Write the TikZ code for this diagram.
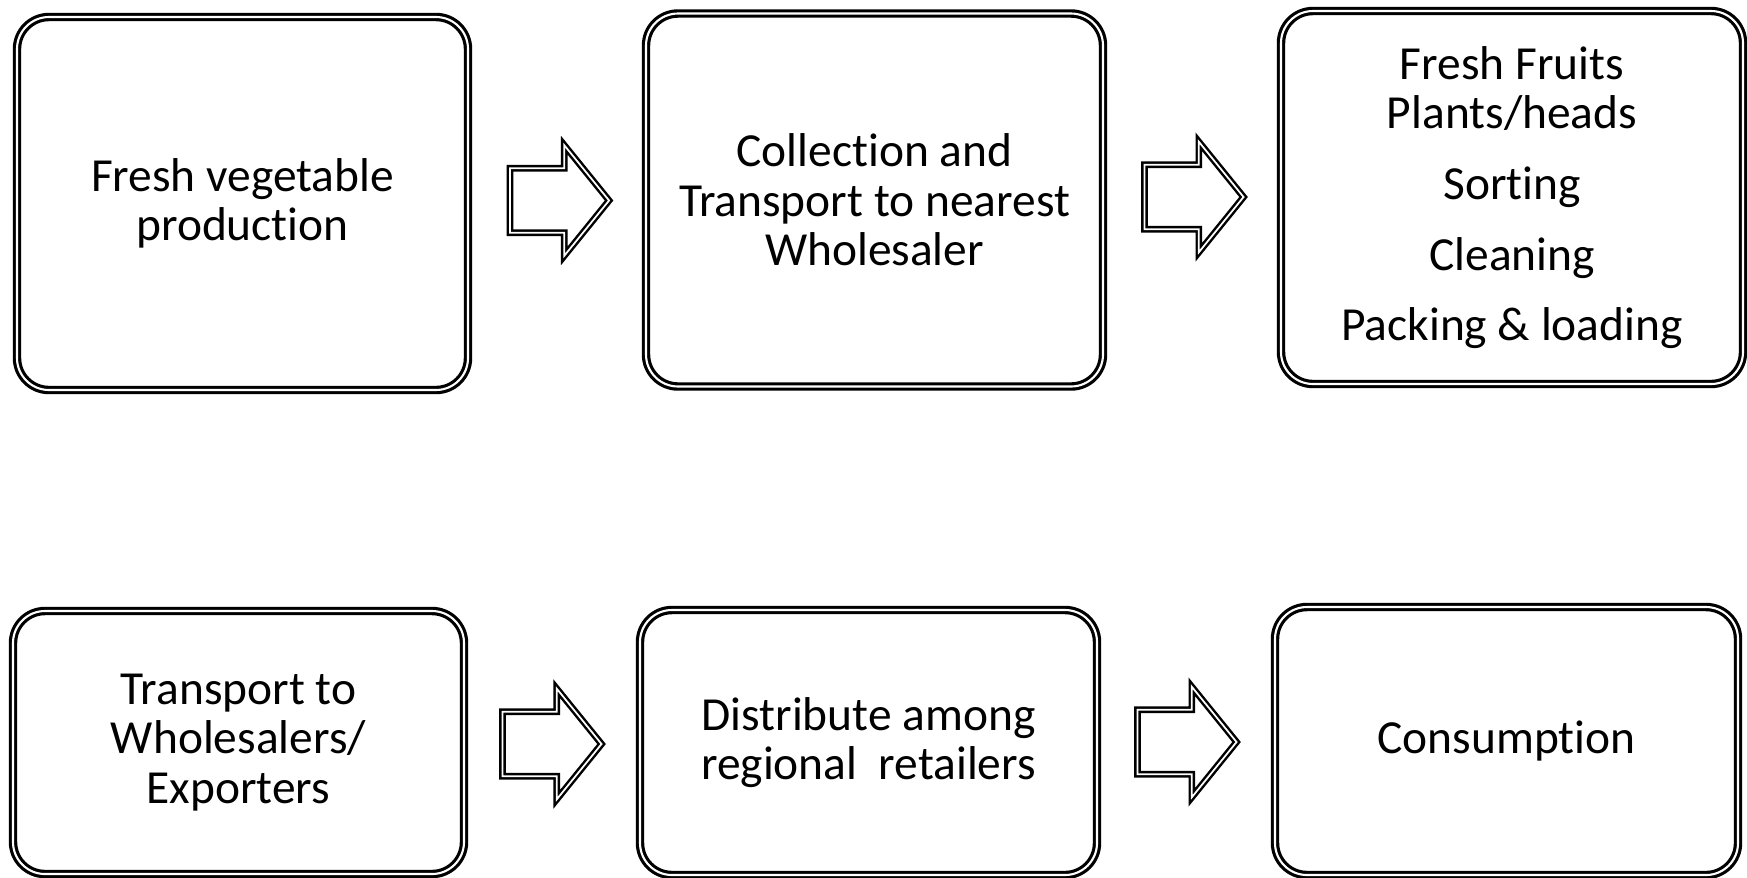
\documentclass[tikz,border=0pt]{standalone}
\usepackage{fontspec}
\setmainfont{Carlito}[Ligatures=NoCommon]
\usepackage{tikz}
\usetikzlibrary{shapes.arrows, positioning}
\tikzset{
  box/.style={rectangle, draw, rounded corners=0.32cm, double, double distance=0.6pt, line width=0.9pt, minimum width=4.55cm, minimum height=3.73cm, align=center, font=\fontsize{13.5}{14.1}\selectfont},
  blockarrow/.style={single arrow, draw, double, double distance=0.5pt, line width=0.7pt, minimum height=0.99cm, single arrow head extend=0.23cm, single arrow tip angle=102, inner xsep=0pt, inner ysep=0.31cm},
}
\begin{document}
\begin{tikzpicture}
    \useasboundingbox (0,0) rectangle (17.47,-8.77);
    % top row
    \node[box, minimum width=4.51cm] (prod) at (2.425,-2.035) {Fresh vegetable\\production};
    \node[box, minimum width=4.57cm] (collect) at (8.745,-2.0) {Collection and\\Transport to nearest\\Wholesaler};
    \node[box, minimum width=4.62cm] (sort) at (15.12,-1.975) {Fresh Fruits\\Plants/heads\\[6pt]Sorting\\[6pt]Cleaning\\[6pt]Packing \& loading};
    % bottom row
    \node[box, minimum width=4.51cm, minimum height=2.63cm] (export) at (2.385,-7.425) {Transport to\\Wholesalers/\\Exporters};
    \node[box, minimum width=4.57cm, minimum height=2.65cm] (retail) at (8.685,-7.425) {Distribute among\\regional\ \ retailers};
    \node[box, minimum width=4.63cm, minimum height=2.68cm] (consume) at (15.065,-7.41) {Consumption};
    % block arrows
    \node[blockarrow] (prod-collect) at (5.465,-2.005) {};
    \node[blockarrow] (collect-sort) at (11.81,-1.97) {};
    \node[blockarrow] (export-retail) at (5.39,-7.44) {};
    \node[blockarrow] (retail-consume) at (11.74,-7.42) {};
\end{tikzpicture}
\end{document}
